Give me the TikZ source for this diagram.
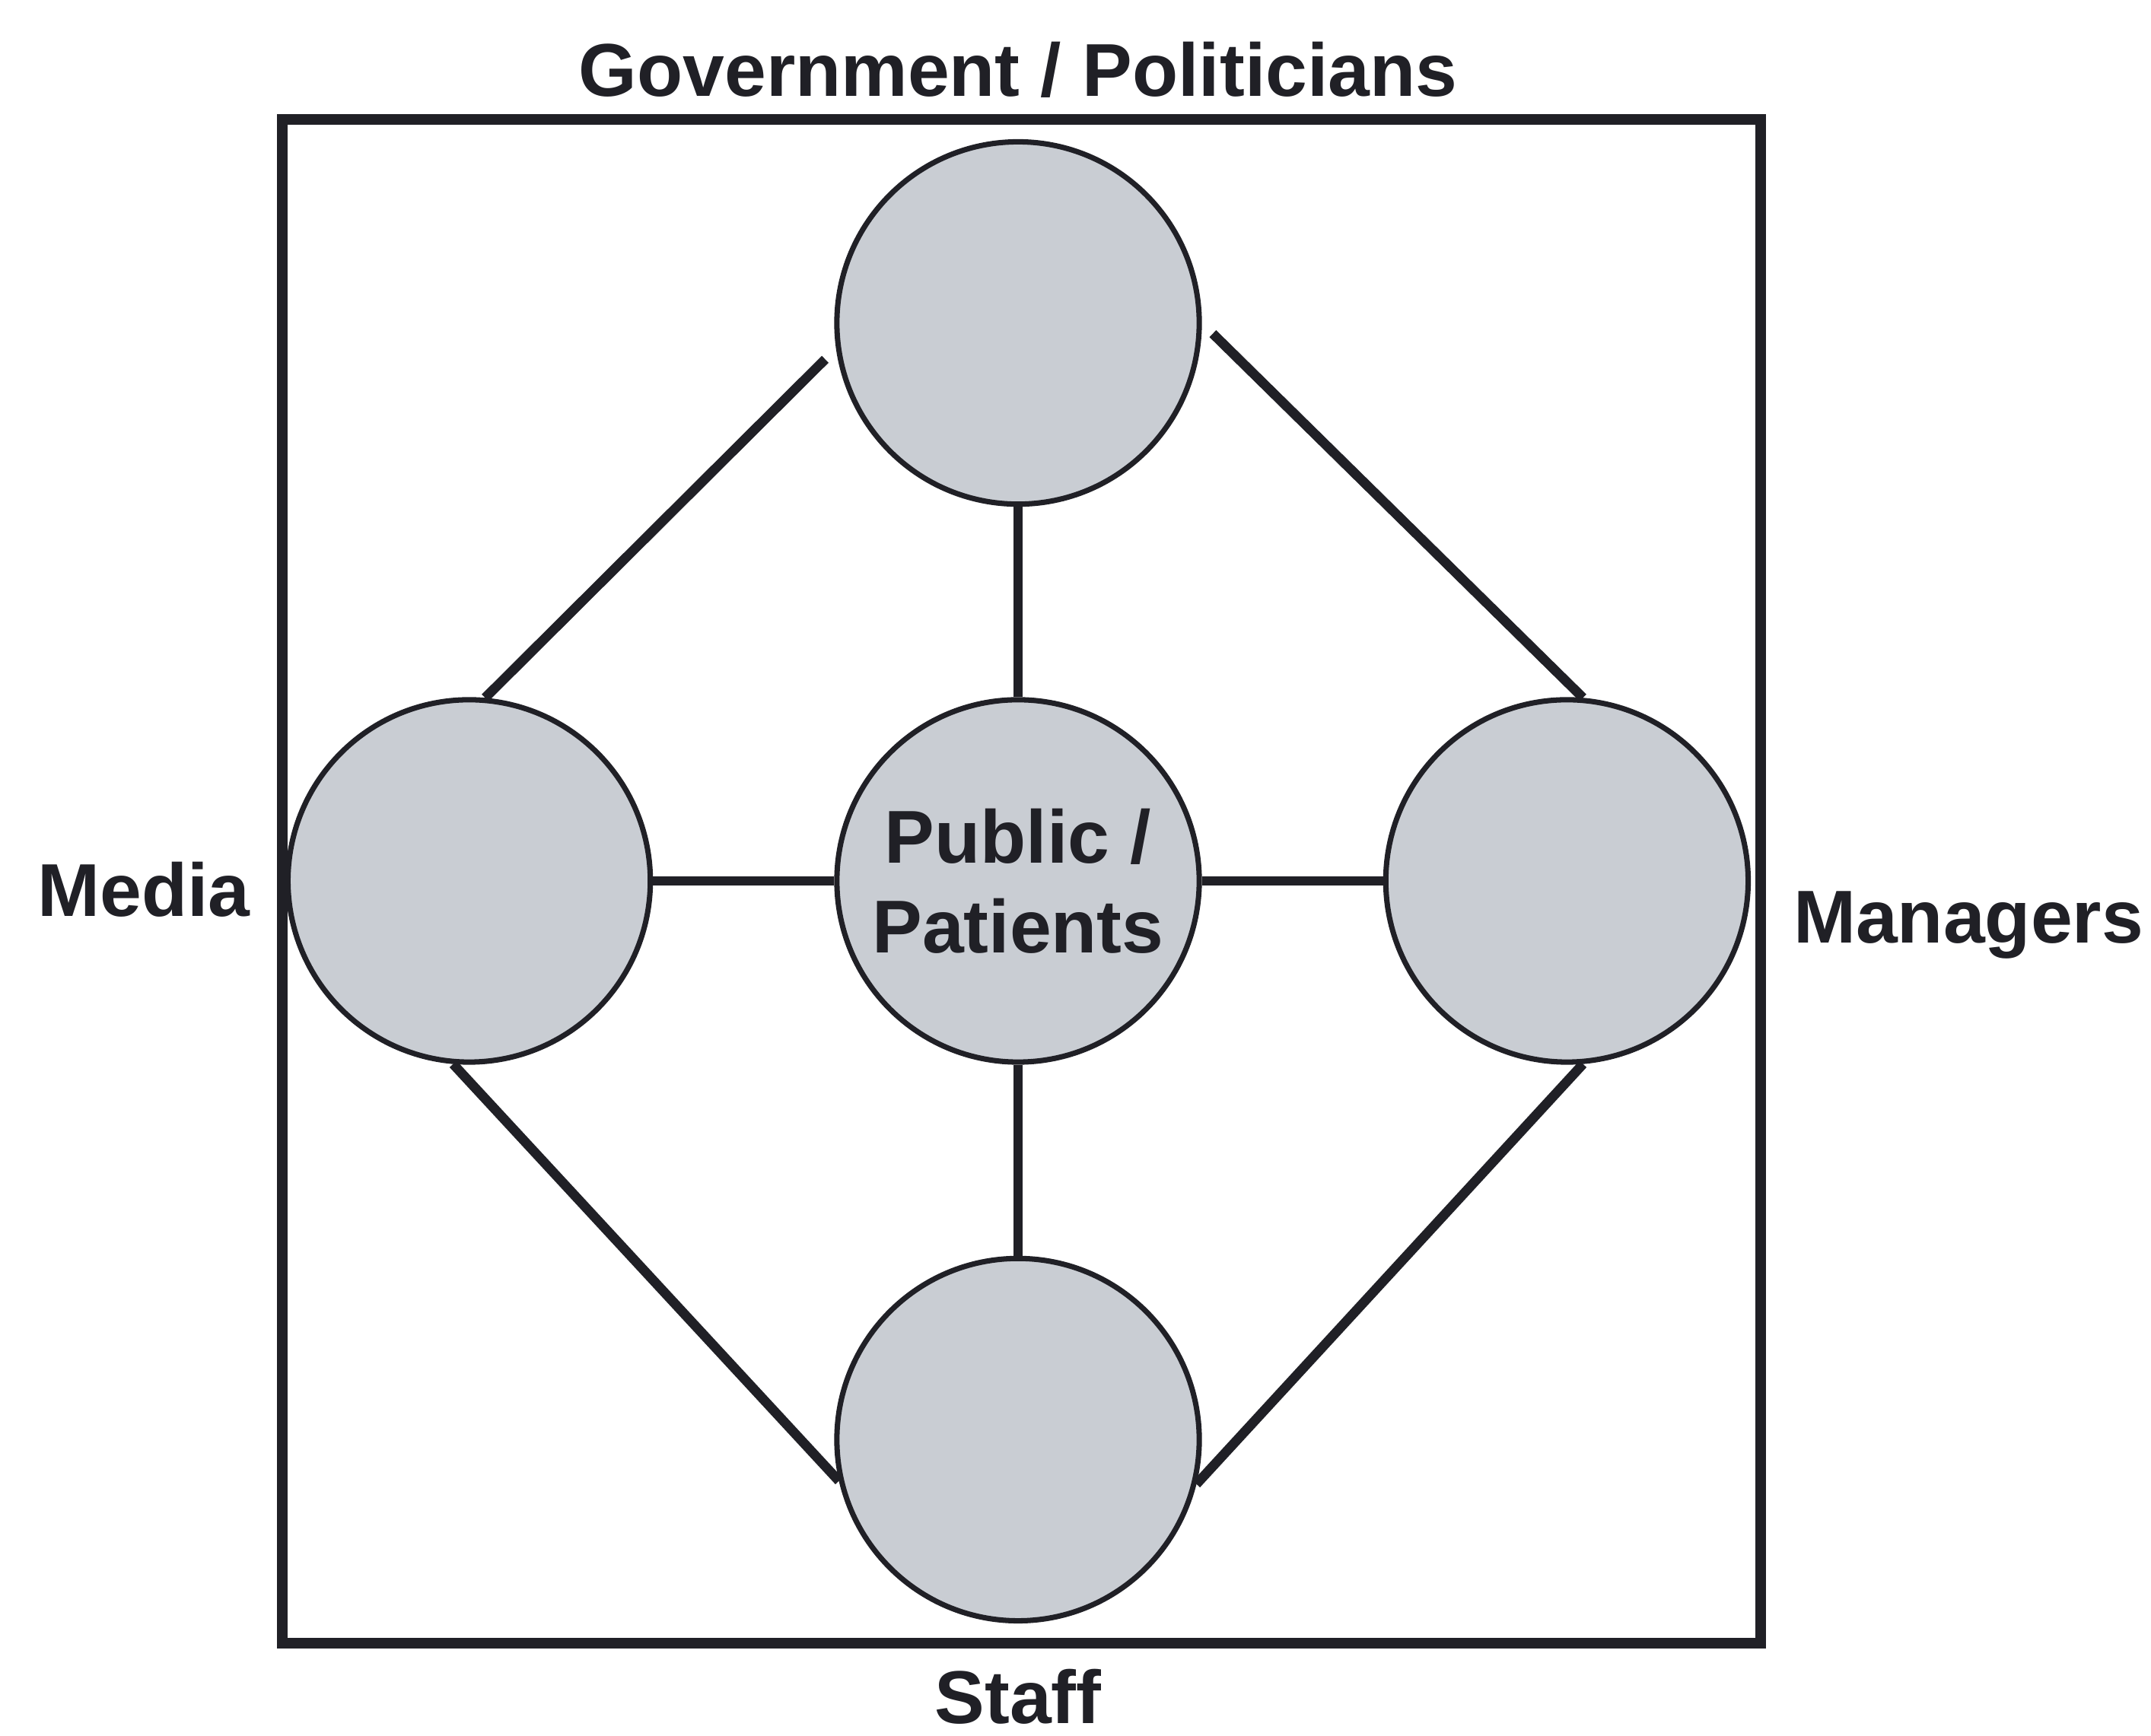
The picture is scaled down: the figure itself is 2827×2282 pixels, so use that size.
\documentclass[tikz,border=0pt]{standalone}
\usepackage{fontspec}
\setmainfont{Liberation Sans}
\usepackage{xcolor}
\usepackage{tikz}

\definecolor{discgray}{RGB}{201,205,211}
\definecolor{inkdark}{RGB}{32,32,38}

\begin{document}
\begin{tikzpicture}[x=0.01cm, y=0.01cm, node distance=7.21cm,
    disc/.style={circle, draw=inkdark, line width=2pt, fill=discgray, minimum size=4.76cm, inner sep=0pt, align=center, text=inkdark, font=\bfseries\fontsize{28}{33.6}\selectfont},
    rolelabel/.style={anchor=base, inner sep=1pt, text=inkdark, font=\bfseries\fontsize{28}{33.6}\selectfont},
    tie/.style={draw=inkdark, line width=3.6pt}]
    \useasboundingbox (0,0) rectangle (2827,2282);
    \draw[inkdark, line width=4pt] (371,122) rectangle (2314,2125);

    \node[disc] (public) at (1338,1124) {Public /\\Patients};
    \node[disc, left of=public] (media) {};
    \node[disc, right of=public] (managers) {};
    \node[disc, above of=public, yshift=0.12cm] (gov) {};
    \node[disc, below of=public, yshift=-0.13cm] (staff) {};

    \node[rolelabel] (govtext) at (1338,2155) {Government / Politicians};
    \node[rolelabel] (mediatext) at (189,1077) {Media};
    \node[rolelabel] (managerstext) at (2587,1042) {Managers};
    \node[rolelabel] (stafftext) at (1338,16) {Staff};

    \draw[tie] (media) -- (public);
    \draw[tie] (public) -- (managers);
    \draw[tie] (gov) -- (public);
    \draw[tie] (public) -- (staff);
    \draw[tie, shorten <=0.2cm] (gov.188) -- (media.85);
    \draw[tie, shorten <=0.2cm] (gov.east) -- (managers.85);
    \draw[tie] (media.265) -- (staff.193);
    \draw[tie] (managers.275) -- (staff.346);
\end{tikzpicture}
\end{document}
